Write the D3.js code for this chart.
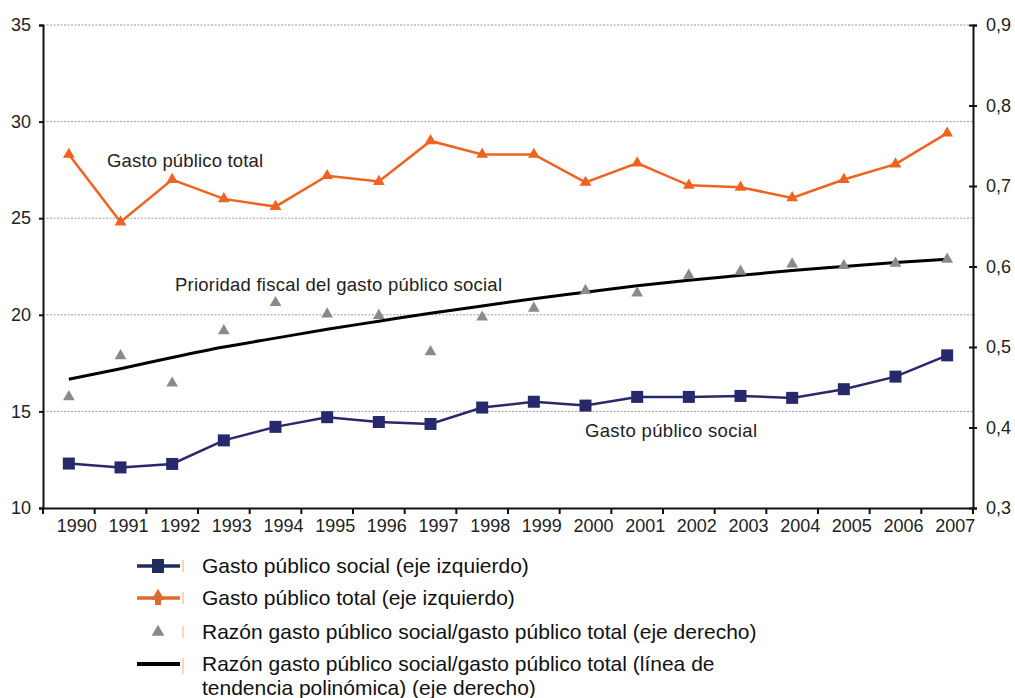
<!DOCTYPE html>
<html>
<head>
<meta charset="utf-8">
<script src="https://cdn.jsdelivr.net/npm/d3@7"></script>
<style>
  body { margin: 0; background: #fff; }
  svg { font-family: "Liberation Sans", Arial, sans-serif; }
</style>
</head>
<body>
<svg width="1015" height="698"></svg>
<script>
// data
const years = [1990, 1991, 1992, 1993, 1994, 1995, 1996, 1997, 1998, 1999,
               2000, 2001, 2002, 2003, 2004, 2005, 2006, 2007];
const gastoSocial = [12.3, 12.1, 12.28, 13.5, 14.2, 14.7, 14.45, 14.35, 15.2, 15.5,
                     15.3, 15.75, 15.75, 15.8, 15.7, 16.15, 16.8, 17.9];
const gastoTotal = [28.3, 24.8, 27.0, 26.0, 25.6, 27.2, 26.9, 29.0, 28.3, 28.3,
                    26.85, 27.85, 26.7, 26.6, 26.05, 27.0, 27.8, 29.4];
const razon = [0.438, 0.489, 0.455, 0.52, 0.555, 0.541, 0.539, 0.494, 0.537, 0.548,
               0.570, 0.567, 0.589, 0.594, 0.603, 0.601, 0.604, 0.609];
const tendencia = [0.46, 0.473, 0.487, 0.50, 0.511, 0.522, 0.532, 0.542, 0.551, 0.56,
                   0.568, 0.576, 0.583, 0.589, 0.595, 0.600, 0.605, 0.609];
const leftTicks = [10, 15, 20, 25, 30, 35];
const rightTicks = [0.3, 0.4, 0.5, 0.6, 0.7, 0.8, 0.9];
const legendLabels = [
  ['Gasto público social (eje izquierdo)'],
  ['Gasto público total (eje izquierdo)'],
  ['Razón gasto público social/gasto público total (eje derecho)'],
  ['Razón gasto público social/gasto público total (línea de', 'tendencia polinómica) (eje derecho)']
];

const navy = '#28286c', orange = '#f0621f', grey = '#8a8a8a';

const svg = d3.select('svg');
const dims = { left: 43, right: 973, top: 25, bottom: 508 };

const x = d3.scaleBand().domain(years).range([dims.left, dims.right]);
const yL = d3.scaleLinear().domain([10, 35]).range([dims.bottom, dims.top]);
const yR = d3.scaleLinear().domain([0.3, 0.9]).range([dims.bottom, dims.top]);
const cx = d => x(d) + x.bandwidth() / 2;

// grid
svg.append('g').selectAll('line')
    .data(leftTicks.filter(t => t > 10))
    .enter().append('line')
    .attr('x1', dims.left).attr('x2', dims.right)
    .attr('y1', d => yL(d)).attr('y2', d => yL(d))
    .attr('stroke', '#999').attr('stroke-width', 1)
    .attr('stroke-dasharray', '2,1.5');

// axes
const axL = svg.append('g')
    .attr('transform', `translate(${dims.left},0)`)
    .call(d3.axisLeft(yL).tickValues(leftTicks).tickSize(4).tickPadding(8));
const axR = svg.append('g')
    .attr('transform', `translate(${dims.right},0)`)
    .call(d3.axisRight(yR).tickValues(rightTicks).tickSize(4).tickPadding(9)
        .tickFormat(d => d3.format('.1f')(d).replace('.', ',')));
const axB = svg.append('g')
    .attr('transform', `translate(0,${dims.bottom})`)
    .call(d3.axisBottom(x).tickSize(0).tickPadding(11));

[axL, axR, axB].forEach(a => {
  a.select('.domain').attr('stroke', '#111').attr('stroke-width', 2);
  a.selectAll('.tick line').attr('stroke', '#111').attr('stroke-width', 2);
  a.selectAll('text').attr('font-size', 18).attr('fill', '#222')
      .attr('font-family', '"Liberation Sans", Arial, sans-serif');
});
axR.selectAll('.tick line').attr('x1', -4);
axB.selectAll('.tick text').attr('dx', 8);

// x ticks at band boundaries
svg.append('g').selectAll('line')
    .data(years)
    .enter().append('line')
    .attr('x1', d => x(d) + x.bandwidth()).attr('x2', d => x(d) + x.bandwidth())
    .attr('y1', dims.bottom).attr('y2', dims.bottom + 6)
    .attr('stroke', '#111').attr('stroke-width', 2);
svg.append('line')
    .attr('x1', dims.left).attr('x2', dims.left)
    .attr('y1', dims.bottom).attr('y2', dims.bottom + 6)
    .attr('stroke', '#111').attr('stroke-width', 2);

// trend line
const trendLine = d3.line()
    .x((d, i) => cx(years[i]))
    .y(d => yR(d))
    .curve(d3.curveMonotoneX);
svg.append('path')
    .datum(tendencia)
    .attr('d', trendLine)
    .attr('fill', 'none').attr('stroke', '#000').attr('stroke-width', 3);

// ratio triangles
const tri = d3.symbol().type(d3.symbolTriangle).size(60);
svg.append('g').selectAll('path')
    .data(razon)
    .enter().append('path')
    .attr('d', tri)
    .attr('transform', (d, i) => `translate(${cx(years[i])},${yR(d)})`)
    .attr('fill', grey);

// gasto total
const lineL = d3.line().x((d, i) => cx(years[i])).y(d => yL(d));
svg.append('path')
    .datum(gastoTotal)
    .attr('d', lineL)
    .attr('fill', 'none').attr('stroke', orange).attr('stroke-width', 2.5);
svg.append('g').selectAll('path')
    .data(gastoTotal)
    .enter().append('path')
    .attr('d', tri)
    .attr('transform', (d, i) => `translate(${cx(years[i])},${yL(d)})`)
    .attr('fill', orange);

// gasto social
svg.append('path')
    .datum(gastoSocial)
    .attr('d', lineL)
    .attr('fill', 'none').attr('stroke', navy).attr('stroke-width', 2.5);
svg.append('g').selectAll('rect')
    .data(gastoSocial)
    .enter().append('rect')
    .attr('x', (d, i) => cx(years[i]) - 6)
    .attr('y', d => yL(d) - 6)
    .attr('width', 12).attr('height', 12)
    .attr('fill', navy);

// in-chart labels
const notes = [
  { t: 'Gasto público total', x: 107, y: 167 },
  { t: 'Prioridad fiscal del gasto público social', x: 175, y: 291 },
  { t: 'Gasto público social', x: 585, y: 437 }
];
svg.append('g').selectAll('text')
    .data(notes)
    .enter().append('text')
    .attr('x', d => d.x).attr('y', d => d.y)
    .attr('font-size', 18.5).attr('fill', '#222')
    .attr('textLength', d => ({ 'Gasto público total': 156,
        'Prioridad fiscal del gasto público social': 327,
        'Gasto público social': 172 })[d.t])
    .text(d => d.t);

// legend
const lg = svg.append('g');
const rowY = [566, 598, 632, 664];
const iconCol = ['#1f2d5c', '#e06a2c', null, '#000'];
rowY.forEach((ry, i) => {
  const g = lg.append('g').attr('transform', `translate(0,${ry})`);
  if (iconCol[i]) {
    g.append('line').attr('x1', 137).attr('x2', 180).attr('y1', 0).attr('y2', 0)
        .attr('stroke', iconCol[i])
        .attr('stroke-width', i === 3 ? 4 : 3.5);
  }
  if (i === 0) {
    g.append('rect').attr('x', 152).attr('y', -7).attr('width', 12).attr('height', 14)
        .attr('fill', '#1f2d5c');
  }
  if (i === 1) {
    g.append('path').attr('d', d3.symbol().type(d3.symbolTriangle).size(70))
        .attr('transform', 'translate(158,-2)').attr('fill', '#e06a2c');
    g.append('rect').attr('x', 155).attr('y', 0).attr('width', 6).attr('height', 7)
        .attr('fill', '#e06a2c');
  }
  if (i === 2) {
    g.append('path').attr('d', d3.symbol().type(d3.symbolTriangle).size(70))
        .attr('transform', 'translate(158,0)').attr('fill', grey);
  }
  g.append('line').attr('x1', 183).attr('x2', 183).attr('y1', -6).attr('y2', i === 3 ? 10 : 6)
      .attr('stroke', '#f7c99a').attr('stroke-width', 1.5);
  g.selectAll('text')
      .data(legendLabels[i])
      .enter().append('text')
      .attr('x', 202)
      .attr('y', (d, j) => 7 + j * 24)
      .attr('font-size', 21).attr('fill', '#111')
      .text(d => d);
});
</script>
</body>
</html>
